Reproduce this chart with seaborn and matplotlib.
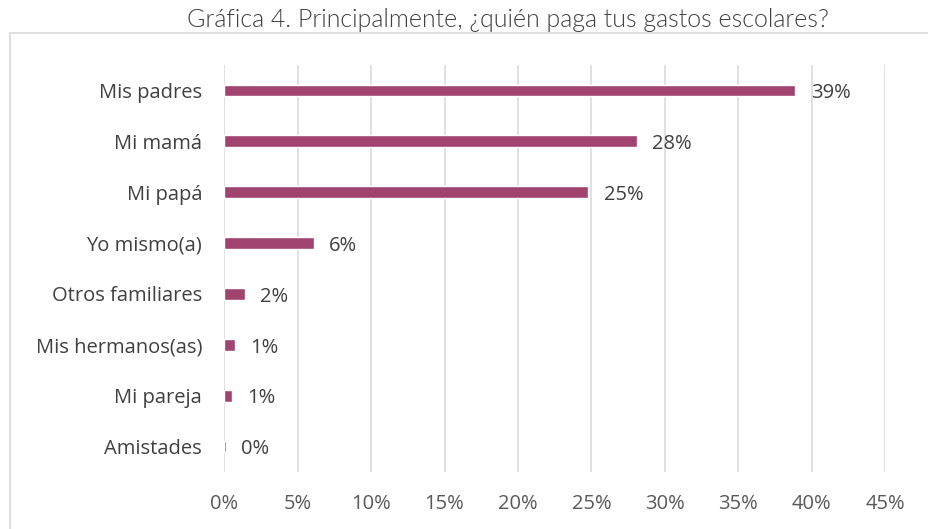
import pandas as pd
import matplotlib.pyplot as plt
import matplotlib.patches as patches
from matplotlib.ticker import FuncFormatter
import seaborn as sns

# data
categories = ['Mis padres', 'Mi mamá', 'Mi papá', 'Yo mismo(a)', 'Otros familiares',
              'Mis hermanos(as)', 'Mi pareja', 'Amistades']
values = [38.9, 28.1, 24.8, 6.1, 1.4, 0.7, 0.5, 0.1]
value_labels = ['39%', '28%', '25%', '6%', '2%', '1%', '1%', '0%']
x_ticks = [0, 5, 10, 15, 20, 25, 30, 35, 40, 45]

df = pd.DataFrame({'quien': categories, 'pct': values})

sns.set_style('white')
plt.rcParams['font.family'] = ['Open Sans', 'DejaVu Sans']

fig = plt.figure(figsize=(9.29, 5.29), dpi=100)
ax = fig.add_axes([0.2414, 0.1078, 0.7113, 0.7694])

sns.barplot(data=df, x='pct', y='quien', orient='h', color='#A0446F',
            saturation=1, width=0.23, ax=ax)

ax.set_xlim(0, 45)
ax.set_ylim(7.5, -0.5)
ax.set_xticks(x_ticks)
ax.xaxis.set_major_formatter(FuncFormatter(lambda v, p: f'{v:.0f}%'))
ax.grid(axis='x', color='#d9d9d9', linewidth=1.1)
ax.set_axisbelow(True)
for s in ax.spines.values():
    s.set_visible(False)
ax.set_xlabel('')
ax.set_ylabel('')
ax.tick_params(axis='x', length=0, pad=16, labelsize=14.5, labelcolor='#595959')
ax.tick_params(axis='y', length=0, pad=16, labelsize=14.5, labelcolor='#404040')

# value labels sit a touch below the bar centre, as in the original
for i, (v, lab) in enumerate(zip(values, value_labels)):
    ax.annotate(lab, (v, i), xytext=(11, -2), textcoords='offset points',
                ha='left', va='center', fontsize=14.5, color='#404040')

fig.text(0.547, 0.962, 'Gráfica 4. Principalmente, ¿quién paga tus gastos escolares?',
         ha='center', va='center', fontsize=18, family=['Lato', 'DejaVu Sans'],
         fontweight=300, color='#404040')

# outer chart frame
frame = patches.Rectangle((10 / 929, -0.1), 1.2, 1 - 33 / 529 + 0.1,
                          transform=fig.transFigure, fill=False,
                          edgecolor='#d9d9d9', linewidth=1.2, clip_on=False)
fig.patches.append(frame)

fig.savefig('out.png', dpi=100)
